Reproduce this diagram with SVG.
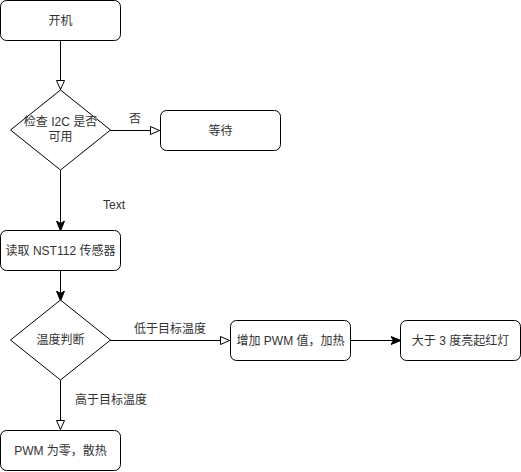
<svg xmlns="http://www.w3.org/2000/svg" width="521" height="472" viewBox="0 0 521 472">
<defs>
<marker id="open" viewBox="0 0 10 10" refX="10" refY="5" markerWidth="10" markerHeight="10" markerUnits="userSpaceOnUse" orient="auto">
<path d="M0.5,1 L9.5,5 L0.5,9 Z" fill="#fff" stroke="#000" stroke-width="1"/>
</marker>
<marker id="filled" viewBox="0 0 10 10" refX="9" refY="5" markerWidth="10" markerHeight="10" markerUnits="userSpaceOnUse" orient="auto">
<path d="M0,1 L10,5 L0,9 L2.5,5 Z" fill="#000" stroke="#000" stroke-width="1"/>
</marker>
</defs>
<style>
.box{fill:#fff;stroke:#000;stroke-width:1}
.t{font-family:"Liberation Sans","Noto Sans CJK SC",sans-serif;font-size:12px;fill:#333;text-anchor:middle;dominant-baseline:central}
.e{fill:none;stroke:#000;stroke-width:1}
</style>
<rect width="521" height="472" fill="#fff"/>
<g id="connectors">
<path class="e" d="M60.5,40.5 V90" marker-end="url(#open)"/>
<path class="e" d="M110,130.5 H160" marker-end="url(#open)"/>
<text class="t" x="135" y="119">否</text>
<path class="e" d="M60.5,170 V230" marker-end="url(#filled)"/>
<text class="t" x="114" y="205">Text</text>
<path class="e" d="M60.5,270 V300" marker-end="url(#filled)"/>
<path class="e" d="M110,340.5 H230" marker-end="url(#open)"/>
<text class="t" x="170" y="329">低于目标温度</text>
<path class="e" d="M60.5,380 V430" marker-end="url(#open)"/>
<text class="t" x="111" y="400">高于目标温度</text>
<path class="e" d="M350,340.5 H400" marker-end="url(#filled)"/>
</g>
<g id="n1"><rect class="box" x="0.5" y="0.5" width="120" height="40" rx="6"/><text class="t" x="60.5" y="20.5">开机</text></g>
<g id="n2"><path class="box" d="M60.5,90 L110.5,130 L60.5,170 L10.5,130 Z"/><text class="t" x="60.5" y="122">检查 I2C 是否</text><text class="t" x="60.5" y="137">可用</text></g>
<g id="n3"><rect class="box" x="160.5" y="110.5" width="120" height="40" rx="6"/><text class="t" x="220.5" y="130.5">等待</text></g>
<g id="n4"><rect class="box" x="0.5" y="230.5" width="120" height="40" rx="6"/><text class="t" x="60.5" y="250.5">读取 NST112 传感器</text></g>
<g id="n5"><path class="box" d="M60.5,300 L110.5,340 L60.5,380 L10.5,340 Z"/><text class="t" x="60.5" y="340">温度判断</text></g>
<g id="n6"><rect class="box" x="230.5" y="320.5" width="120" height="40" rx="6"/><text class="t" x="290.5" y="340.5">增加 PWM 值，加热</text></g>
<g id="n7"><rect class="box" x="400.5" y="320.5" width="120" height="40" rx="6"/><text class="t" x="460.5" y="340.5">大于 3 度亮起红灯</text></g>
<g id="n8"><rect class="box" x="0.5" y="430.5" width="120" height="40" rx="6"/><text class="t" x="60.5" y="450.5">PWM 为零，散热</text></g>
</svg>
